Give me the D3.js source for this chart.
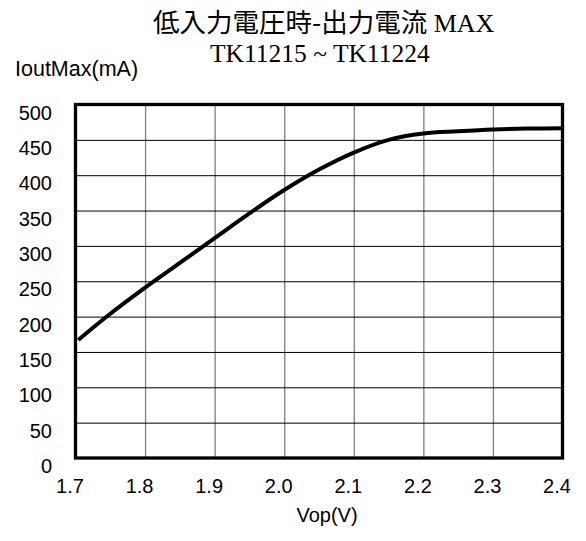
<!DOCTYPE html>
<html>
<head>
<meta charset="utf-8">
<script src="https://cdn.jsdelivr.net/npm/d3@7"></script>
<style>
  html, body { margin: 0; padding: 0; background: #fff; }
  svg { display: block; }
</style>
</head>
<body>
<svg id="chart" width="586" height="541"></svg>
<script>
// Supply voltage (V) vs. maximum output current (mA)
const vop = [1.704, 1.75, 1.80, 1.85, 1.90, 1.95, 2.00, 2.05, 2.10, 2.15, 2.20, 2.25, 2.30, 2.35, 2.40];
const ioutMax = [167, 204, 241, 276, 311, 346, 379, 408, 432, 450, 459, 462, 464.5, 466, 466.5];
const xTicks = [1.7, 1.8, 1.9, 2.0, 2.1, 2.2, 2.3, 2.4];
const yTicks = [0, 50, 100, 150, 200, 250, 300, 350, 400, 450, 500];

const svg = d3.select("#chart");
const plotL = 75.5, plotR = 562.5, plotT = 104.5, plotB = 458;

const x = d3.scaleLinear().domain([1.7, 2.4]).range([plotL, plotR]);
const y = d3.scaleLinear().domain([0, 500]).range([plotB, plotT]);

const sans = "'Liberation Sans', Arial, sans-serif";
const serif = "'Liberation Serif', 'Times New Roman', serif";

// vertical grid (grey)
svg.append("g")
  .attr("transform", `translate(0,${plotB})`)
  .call(d3.axisBottom(x).tickValues(xTicks).tickSize(-(plotB - plotT)).tickFormat(""))
  .call(g => g.select(".domain").remove())
  .call(g => g.selectAll("line").attr("stroke", "#808080").attr("stroke-width", 1.3));

// horizontal grid (black)
svg.append("g")
  .attr("transform", `translate(${plotL},0)`)
  .call(d3.axisLeft(y).tickValues(yTicks).tickSize(-(plotR - plotL)).tickFormat(""))
  .call(g => g.select(".domain").remove())
  .call(g => g.selectAll("line").attr("stroke", "#000").attr("stroke-width", 1));

// tick labels
svg.append("g")
  .attr("transform", `translate(0,${plotB})`)
  .call(d3.axisBottom(x).tickValues(xTicks).tickSize(0).tickPadding(0).tickFormat(d3.format(".1f")))
  .call(g => g.select(".domain").remove())
  .call(g => g.selectAll("text")
    .attr("y", 35).attr("dy", 0).attr("dx", -6)
    .attr("font-family", sans).attr("font-size", 20).attr("fill", "#000"));

svg.append("g")
  .attr("transform", `translate(${plotL},0)`)
  .call(d3.axisLeft(y).tickValues(yTicks).tickSize(0).tickPadding(23.5).tickFormat(d3.format("d")))
  .call(g => g.select(".domain").remove())
  .call(g => g.selectAll("text")
    .attr("dy", 14.5)
    .attr("font-family", sans).attr("font-size", 20).attr("fill", "#000"));

// frame
svg.append("rect")
  .attr("x", plotL).attr("y", plotT)
  .attr("width", plotR - plotL).attr("height", plotB - plotT)
  .attr("fill", "none").attr("stroke", "#000").attr("stroke-width", 3.3);

// curve
const line = d3.line()
  .x((d, i) => x(vop[i]))
  .y(d => y(d))
  .curve(d3.curveCatmullRom.alpha(0.5));

svg.append("path")
  .datum(ioutMax)
  .attr("d", line)
  .attr("fill", "none")
  .attr("stroke", "#000")
  .attr("stroke-width", 4);

// titles
const title = svg.append("text")
  .attr("x", 153).attr("y", 31.5)
  .attr("fill", "#000");
title.append("tspan")
  .attr("font-family", "'Noto Sans CJK JP', sans-serif")
  .attr("font-size", 26.5)
  .text("低入力電圧時-出力電流");
title.append("tspan")
  .attr("font-family", serif)
  .attr("font-size", 26)
  .text(" MAX");

svg.append("text")
  .attr("x", 210).attr("y", 62)
  .attr("font-family", serif)
  .attr("font-size", 25.5)
  .attr("fill", "#000")
  .text("TK11215 ~ TK11224");

svg.append("text")
  .attr("x", 15).attr("y", 76)
  .attr("font-family", sans)
  .attr("font-size", 21.5)
  .attr("fill", "#000")
  .text("IoutMax(mA)");

svg.append("text")
  .attr("x", 327).attr("y", 522)
  .attr("text-anchor", "middle")
  .attr("font-family", sans)
  .attr("font-size", 20)
  .attr("fill", "#000")
  .text("Vop(V)");
</script>
</body>
</html>
